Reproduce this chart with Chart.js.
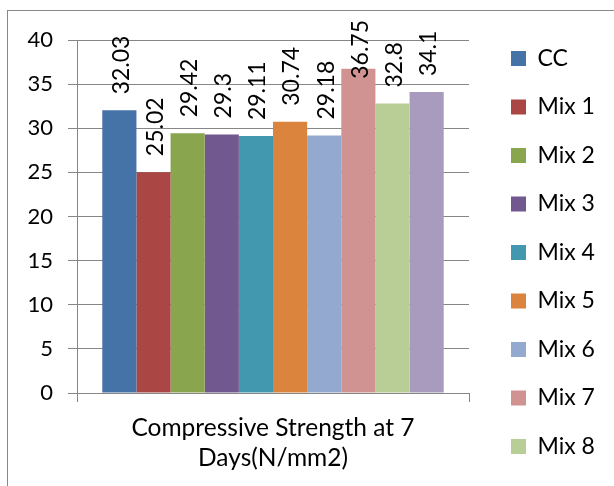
<!DOCTYPE html>
<html>
<head>
<meta charset="utf-8">
<script src="https://cdn.jsdelivr.net/npm/chart.js@4.4.1/dist/chart.umd.min.js"></script>
<style>
  html, body { margin: 0; padding: 0; overflow: hidden; background: #ffffff; width: 614px; height: 486px; }
  #frame { position: absolute; left: 7px; top: 10px; width: 700px; height: 600px; border: 1px solid #898989; box-sizing: border-box; }
  #wrap { position: absolute; left: 0; top: 0; width: 700px; height: 540px; }
</style>
</head>
<body>
<div id="frame"></div>
<div id="wrap"><canvas id="c" width="700" height="540"></canvas></div>
<script>
const categories = [["Compressive Strength at 7", "Days(N/mm2)"]];
const seriesNames = ["CC", "Mix 1", "Mix 2", "Mix 3", "Mix 4", "Mix 5", "Mix 6", "Mix 7", "Mix 8", "Mix 9"];
const seriesValues = [32.03, 25.02, 29.42, 29.3, 29.11, 30.74, 29.18, 36.75, 32.8, 34.1];
const seriesColors = ["#4572a7", "#aa4643", "#89a54e", "#71588f", "#4198af", "#db843d", "#93a9cf", "#d19392", "#b9cd96", "#a99bbd"];
const yTicks = [0, 5, 10, 15, 20, 25, 30, 35, 40];
const legendShown = 9; // the reference legend is cut off after "Mix 8"

const FONT = "Lato";
const GRID = "#868686";
const CANVAS_W = 700;
const PLOT_RIGHT = 469;
const LEGEND_GAP = 16.5;

const datasets = seriesNames.map((name, i) => ({
  label: name,
  data: [seriesValues[i]],
  backgroundColor: seriesColors[i],
  borderWidth: 0,
  categoryPercentage: 0.871,
  barPercentage: 1.0
}));

const valueLabels = {
  id: "valueLabels",
  afterDatasetsDraw(chart) {
    const ctx = chart.ctx;
    ctx.save();
    ctx.font = "23px " + FONT;
    ctx.fillStyle = "#000000";
    ctx.textAlign = "left";
    ctx.textBaseline = "middle";
    const topLimit = chart.chartArea.top - 20;
    chart.data.datasets.forEach((ds, i) => {
      const meta = chart.getDatasetMeta(i);
      meta.data.forEach((bar, j) => {
        const txt = String(ds.data[j]);
        const w = ctx.measureText(txt).width;
        let start = bar.y - 16;
        if (start - w < topLimit) start = topLimit + w;
        ctx.save();
        ctx.translate(bar.x + 2, start);
        ctx.rotate(-Math.PI / 2);
        ctx.fillText(txt, 0, 0);
        ctx.restore();
      });
    });
    ctx.restore();
  }
};

// leave a gap between the plot area and the legend, as in the reference
const legendGap = {
  id: "legendGap",
  afterLayout(chart) {
    if (chart.legend) {
      chart.legend.left += LEGEND_GAP;
      chart.legend.right += LEGEND_GAP;
    }
  }
};

const chart = new Chart(document.getElementById("c"), {
  type: "bar",
  data: { labels: categories, datasets: datasets },
  options: {
    responsive: false,
    animation: false,
    devicePixelRatio: 1,
    layout: { padding: { top: 21.5, right: 100, bottom: 0, left: 0 } },
    plugins: {
      title: { display: true, text: "", fullSize: false, font: { size: 10, lineHeight: 1 }, padding: { top: 8.5, bottom: 0 } },
      tooltip: { enabled: false },
      legend: {
        display: true,
        position: "right",
        align: "start",
        labels: {
          boxWidth: 15,
          boxHeight: 15,
          padding: 25.5,
          color: "#000000",
          font: { family: FONT, size: 23 },
          filter: (item) => item.datasetIndex < legendShown
        }
      }
    },
    scales: {
      x: {
        type: "category",
        position: "bottom",
        offset: true,
        grid: { display: true, drawOnChartArea: false, color: GRID, tickLength: 9, offset: true },
        border: { display: true, color: GRID },
        ticks: { color: "#000000", font: { family: FONT, size: 24.5, lineHeight: "30px" }, padding: 11, maxRotation: 0, minRotation: 0 },
        afterFit(s) { s.height = s.chart.height - 393; }
      },
      y: {
        type: "linear",
        position: "left",
        min: 0,
        max: 40,
        afterBuildTicks(s) { s.ticks = yTicks.map(v => ({ value: v })); },
        grid: { display: true, color: GRID, tickLength: 9 },
        border: { display: true, color: GRID },
        ticks: { color: "#000000", font: { family: FONT, size: 22 }, padding: 15 },
        afterFit(s) { s.width = 77; }
      }
    }
  },
  plugins: [valueLabels, legendGap]
});

// let the library size the legend, then set the padding so the plot ends where the reference's does
chart.options.layout.padding.right = CANVAS_W - PLOT_RIGHT - chart.legend.width;
chart.update();
</script>
</body>
</html>
